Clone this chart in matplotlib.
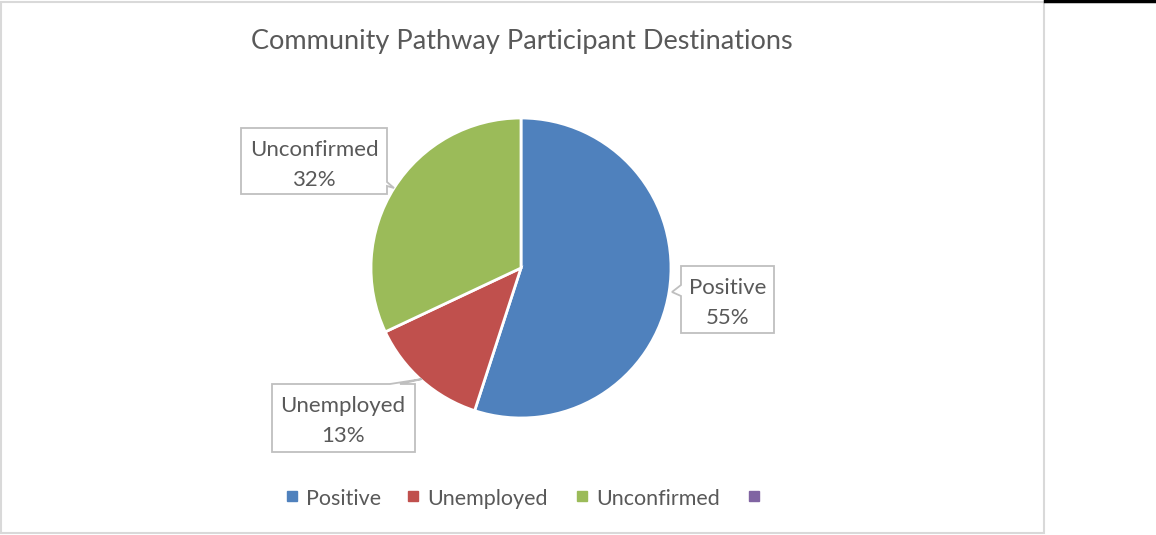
import matplotlib.pyplot as plt
from matplotlib.patches import Polygon, Rectangle
from matplotlib.lines import Line2D

W, H = 1156, 535

categories = ["Positive", "Unemployed", "Unconfirmed", ""]
shares = [55, 13, 32, 0]
colors = ["#4f81bd", "#c0504d", "#9bbb59", "#8064a2"]
title = "Community Pathway Participant Destinations"

text_col = "#595959"
plt.rcParams['font.family'] = ['Lato', 'DejaVu Sans']


def px(x, y):
    # pixel position (from top-left) -> figure fraction
    return (x / W, 1 - y / H)


fig = plt.figure(figsize=(W / 100, H / 100), dpi=100)
fig.patch.set_facecolor("white")

# chart area border
fig.patches.append(Rectangle(px(1, 533), 1043 / W, 531 / H, transform=fig.transFigure,
                             fill=False, edgecolor="#d9d9d9", linewidth=1.5))
fig.add_artist(Line2D([px(1045, 0)[0], 1], [1 - 1 / H, 1 - 1 / H], color="black",
                      linewidth=2.5, transform=fig.transFigure))

# pie
cx, cy, r = 521, 268, 150
ax = fig.add_axes([(cx - r) / W, (H - cy - r) / H, 2 * r / W, 2 * r / H])
ax.pie(shares[:3], colors=colors[:3], startangle=90, counterclock=False,
       wedgeprops=dict(edgecolor="white", linewidth=2))
ax.set_xlim(-1, 1)
ax.set_ylim(-1, 1)
ax.set_aspect("equal")
ax.axis("off")

fig.text(*px(522, 41), title, ha="center", va="center", fontsize=19.5, color=text_col)


def callout(points, label, center):
    poly = Polygon([px(x, y) for x, y in points], closed=True, transform=fig.transFigure,
                   facecolor="white", edgecolor="#bfbfbf", linewidth=1.3, zorder=5)
    fig.patches.append(poly)
    fig.text(*px(*center), label, ha="center", va="center", fontsize=16,
             color=text_col, linespacing=1.6, zorder=6)


# Unconfirmed label box (pointer bottom-right)
callout([(241, 128), (387, 128), (387, 182), (394, 188), (387, 186), (387, 194), (241, 194)],
        f"{categories[2]}\n{shares[2]}%", (314, 165))
# Unemployed label box (pointer top-right)
callout([(272, 384), (390, 384), (422, 379), (400, 384), (415, 384), (415, 452), (272, 452)],
        f"{categories[1]}\n{shares[1]}%", (343, 421))
# Positive label box (pointer left)
callout([(681, 266), (774, 266), (774, 333), (681, 333), (681, 296), (672, 292), (681, 285)],
        f"{categories[0]}\n{shares[0]}%", (728, 303))

# legend, drawn by hand so the labels share a baseline
legend_x = [292, 413, 582, 754]
for x, c, name in zip(legend_x, colors, categories):
    fig.add_artist(Line2D([px(x, 0)[0]], [px(0, 496)[1]], marker="s", linestyle="none",
                          markersize=6.5, markerfacecolor=c, markeredgecolor=c,
                          transform=fig.transFigure))
    if name:
        fig.text(*px(x + 14, 497), name, ha="left", va="center_baseline",
                 fontsize=15.5, color=text_col)

fig.savefig("out.png", dpi=100, facecolor="white")
